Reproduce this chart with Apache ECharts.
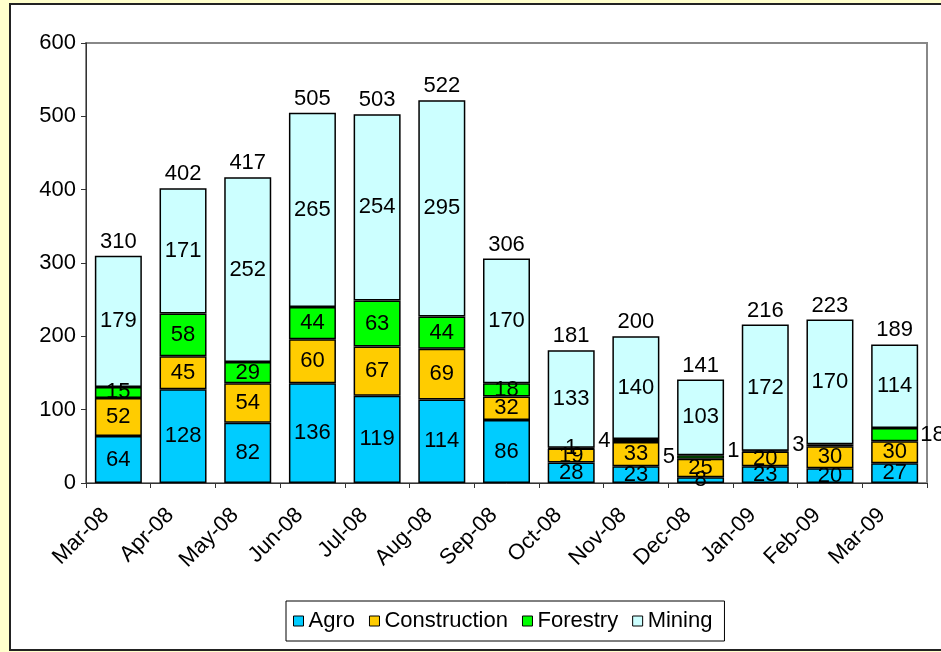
<!DOCTYPE html>
<html>
<head>
<meta charset="utf-8">
<title>Sector stacked bars</title>
<script src="https://cdn.jsdelivr.net/npm/echarts@6/dist/echarts.min.js"></script>
<style>
    html, body { margin: 0; padding: 0; background: #FFFFCC; }
    #chart { width: 941px; height: 652px; }
</style>
</head>
<body>
<div id="chart"></div>
<script>
// 数据
const months = ['Mar-08', 'Apr-08', 'May-08', 'Jun-08', 'Jul-08', 'Aug-08', 'Sep-08',
    'Oct-08', 'Nov-08', 'Dec-08', 'Jan-09', 'Feb-09', 'Mar-09'];
const agro = [64, 128, 82, 136, 119, 114, 86, 28, 23, 8, 23, 20, 27];
const construction = [52, 45, 54, 60, 67, 69, 32, 19, 33, 25, 20, 30, 30];
const forestry = [15, 58, 29, 44, 63, 44, 18, 1, 4, 5, 1, 3, 18];
const mining = [179, 171, 252, 265, 254, 295, 170, 133, 140, 103, 172, 170, 114];
const yTicks = [0, 100, 200, 300, 400, 500, 600];

// 小数值标签放在柱子旁边（样式）
const forestryLabelPos = ['inside', 'inside', 'inside', 'inside', 'inside', 'inside', 'inside',
    'inside', 'left', 'left', 'left', 'left', 'right'];

const totals = months.map((m, i) => agro[i] + construction[i] + forestry[i] + mining[i]);

const FONT = 'Liberation Sans, Arial, sans-serif';
const labelStyle = { show: true, color: '#000', fontSize: 22, fontFamily: FONT };

function barSeries(name, data, color) {
    return {
        name: name,
        type: 'bar',
        stack: 'total',
        barWidth: 47,
        data: data,
        itemStyle: { color: color, borderColor: '#000', borderWidth: 1.5 },
        label: Object.assign({ position: 'inside' }, labelStyle)
    };
}

const forestrySeries = barSeries('Forestry', forestry.map((v, i) => ({
    value: v,
    label: { position: forestryLabelPos[i], distance: 2 }
})), '#00FF00');

const chart = echarts.init(document.getElementById('chart'));
chart.setOption({
    animation: false,
    backgroundColor: '#FFFFCC',
    graphic: [{
        type: 'rect',
        z: -10,
        shape: { x: 10, y: 4, width: 940, height: 646 },
        style: { fill: '#fff', stroke: '#222', lineWidth: 2 }
    }],
    legend: {
        data: ['Agro', 'Construction', 'Forestry', 'Mining'],
        left: 286,
        top: 601,
        itemWidth: 10,
        itemHeight: 10,
        itemGap: 14,
        padding: [9, 12, 9, 7],
        borderColor: '#000',
        borderWidth: 1,
        icon: 'rect',
        itemStyle: { borderColor: '#000', borderWidth: 1 },
        textStyle: { color: '#000', fontSize: 22, fontFamily: FONT }
    },
    grid: {
        left: 86,
        right: 14,
        top: 43,
        bottom: 169,
        show: true,
        borderColor: '#888',
        borderWidth: 2,
        backgroundColor: 'transparent'
    },
    xAxis: {
        type: 'category',
        data: months,
        axisLine: { lineStyle: { color: '#333', width: 1 } },
        axisTick: { show: true, length: 5, lineStyle: { color: '#333' } },
        axisLabel: {
            rotate: 45, margin: 16, padding: [0, 18, 0, 0],
            color: '#000', fontSize: 22, fontFamily: FONT, interval: 0
        }
    },
    yAxis: {
        type: 'value',
        min: yTicks[0],
        max: yTicks[yTicks.length - 1],
        interval: 100,
        splitLine: { show: false },
        axisLine: { show: true, lineStyle: { color: '#333', width: 1 } },
        axisTick: { show: true, length: 5, lineStyle: { color: '#333' } },
        axisLabel: { color: '#000', fontSize: 22, fontFamily: FONT, margin: 10 }
    },
    series: [
        barSeries('Agro', agro, '#00CCFF'),
        barSeries('Construction', construction, '#FFCC00'),
        forestrySeries,
        barSeries('Mining', mining, '#CCFFFF'),
        {
            name: 'Total',
            type: 'bar',
            stack: 'total',
            barWidth: 47,
            data: totals.map(() => 0),
            itemStyle: { color: 'transparent', borderWidth: 0 },
            label: Object.assign({}, labelStyle, {
                position: 'top',
                distance: 3,
                formatter: p => totals[p.dataIndex]
            })
        }
    ]
});
</script>
</body>
</html>
